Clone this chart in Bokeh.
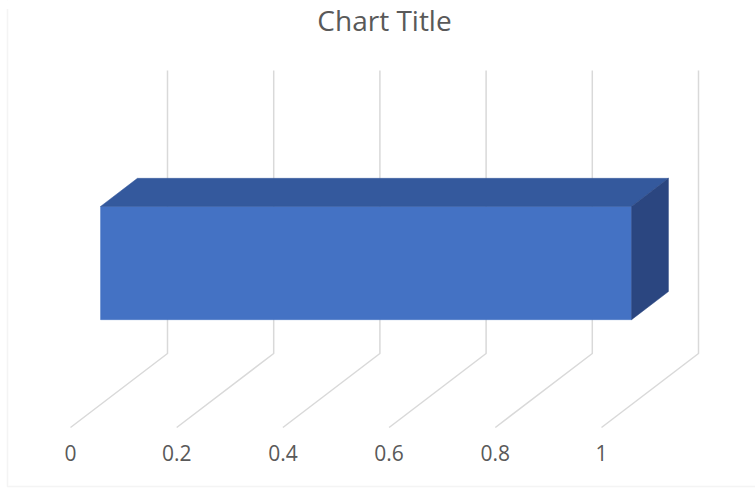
from bokeh.plotting import figure
from bokeh.models import Range1d, BoxAnnotation, ColumnDataSource
from bokeh.core.properties import value
from bokeh.embed import file_html
from bokeh.resources import INLINE

# ---- data ----
title_text = "Chart Title"
values = [1.0]
ticks = [0, 0.2, 0.4, 0.6, 0.8, 1]
tick_labels = ["0", "0.2", "0.4", "0.6", "0.8", "1"]

# ---- layout / style constants ----
W, H = 755, 489
PX_PER_UNIT = 531.0           # screen px per value unit
ORIGIN_PX = 70.0              # px of value 0 at the floor front
DX = 97.0 / PX_PER_UNIT       # depth offset (value units) front->back
DY = 74.0                     # depth offset (px) front->back
FLOOR_Y = 62.0                # y (from bottom) of floor front edge
WALL_H = 283.0                # height of the back wall
GAP = 1.5                     # gap width (Excel 150%)
D1, D2 = 0.31, 0.69           # bar depth extent
GRID = "#d9d9d9"
TXT = "#595959"
FONT = "Open Sans"

x0 = -ORIGIN_PX / PX_PER_UNIT
x1 = x0 + W / PX_PER_UNIT
p = figure(width=W, height=H, output_backend="svg", toolbar_location=None,
           x_range=Range1d(x0, x1), y_range=Range1d(0, H),
           x_axis_location=None, y_axis_location=None, min_border=0)
p.outline_line_color = None
p.xgrid.visible = False
p.ygrid.visible = False
p.background_fill_color = "white"
p.border_fill_color = "white"


def proj(v, d, h):
    return v + d * DX, FLOOR_Y + d * DY + h


# gridlines: floor diagonals + back wall verticals
xs, ys = [], []
for t in ticks:
    a = proj(t, 0, 0)
    b = proj(t, 1, 0)
    c = proj(t, 1, WALL_H)
    xs.append([a[0], b[0], c[0]])
    ys.append([a[1], b[1], c[1]])
p.multi_line(xs=xs, ys=ys, line_color=GRID, line_width=1.5)

# bar (single category, centred on the wall height)
thick = 1.0 / (1.0 + GAP)
h0 = WALL_H * (0.5 - thick / 2)
h1 = WALL_H * (0.5 + thick / 2)
faces = []
colors = []
for v in values:
    front = [proj(0, D1, h0), proj(v, D1, h0), proj(v, D1, h1), proj(0, D1, h1)]
    top = [proj(0, D1, h1), proj(v, D1, h1), proj(v, D2, h1), proj(0, D2, h1)]
    side = [proj(v, D1, h0), proj(v, D2, h0), proj(v, D2, h1), proj(v, D1, h1)]
    faces += [front, top, side]
    colors += ["#4472C4", "#34599D", "#2B4680"]
src = ColumnDataSource(dict(
    xs=[[pt[0] for pt in f] for f in faces],
    ys=[[pt[1] for pt in f] for f in faces],
    color=colors))
p.patches(xs="xs", ys="ys", fill_color="color", line_color="color",
          line_width=0.5, source=src)

# tick labels along the floor front edge
lx = [proj(t, 0, 0)[0] for t in ticks]
ly = [FLOOR_Y - 25 for _ in ticks]
p.text(x=lx, y=ly, text=tick_labels, text_font=value(FONT),
       text_font_size=value("21px"), text_color=TXT,
       text_align="center", text_baseline="middle")

# title
tx = x0 + 384.0 / PX_PER_UNIT
p.text(x=[tx], y=[H - 19], text=[title_text], text_font=value(FONT),
       text_font_size=value("28px"), text_color=TXT,
       text_align="center", text_baseline="alphabetic")

# chart-area border (left and bottom edges visible)
p.add_layout(BoxAnnotation(left=x0 + 7.0 / PX_PER_UNIT, right=x1 + 1, bottom=3, top=H + 20,
                           fill_alpha=0, line_color=GRID, line_width=1.5))
# blank strip above the chart area (the reference is cropped there)
p.add_layout(BoxAnnotation(bottom=H - 8.5, top=H + 20, left=x0 - 1, right=x1 + 1,
                           fill_color="white", fill_alpha=1, line_alpha=0))

open("out.html", "w").write(file_html(p, INLINE))
